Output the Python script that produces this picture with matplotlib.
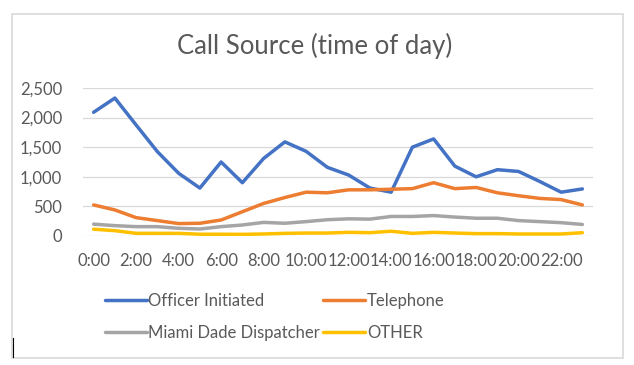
import matplotlib
matplotlib.use("Agg")
import matplotlib.pyplot as plt
from matplotlib.lines import Line2D

plt.rcParams['font.family'] = ['Lato', 'DejaVu Sans']

hours = list(range(24))
hour_labels = [f"{h}:00" for h in hours]

officer = [2090, 2330, 1875, 1425, 1060, 810, 1250, 900, 1310, 1590, 1430, 1160,
           1030, 810, 740, 1500, 1640, 1180, 1000, 1120, 1090, 920, 740, 795]
telephone = [525, 440, 310, 260, 210, 215, 270, 410, 550, 650, 740, 730,
             780, 780, 790, 800, 900, 800, 820, 730, 680, 635, 615, 525]
dispatcher = [200, 175, 158, 158, 130, 118, 158, 186, 230, 215, 243, 275,
              290, 285, 330, 330, 345, 320, 300, 300, 260, 243, 225, 195]
other = [115, 90, 45, 45, 45, 30, 30, 28, 34, 45, 50, 50,
         62, 56, 80, 45, 62, 50, 40, 40, 34, 34, 34, 56]

series = [("Officer Initiated", officer, "#4472C4"),
          ("Telephone", telephone, "#ED7D31"),
          ("Miami Dade Dispatcher", dispatcher, "#A5A5A5"),
          ("OTHER", other, "#FFC000")]

W, H = 634, 365
fig = plt.figure(figsize=(W / 100, H / 100), dpi=100)
ax = fig.add_axes([83 / W, 1 - 236 / H, (593 - 83) / W, (236 - 88) / H])

for name, vals, col in series:
    ax.plot(hours, vals, color=col, lw=2.5, solid_capstyle='round',
            solid_joinstyle='round', label=name)

ax.set_xlim(-0.5, 23.5)
ax.set_ylim(0, 2500)
ax.set_yticks(range(0, 2501, 500))
ax.set_yticklabels([f"{v:,}" for v in range(0, 2501, 500)])
ax.set_xticks(hours[::2])
ax.set_xticklabels(hour_labels[::2])
ax.grid(axis='y', color='#D9D9D9', lw=0.9)
ax.set_axisbelow(True)
for s in ax.spines.values():
    s.set_visible(False)
ax.tick_params(length=0, labelsize=12, colors='#595959')
ax.tick_params(axis='y', pad=15)
ax.tick_params(axis='x', pad=12)

fig.text(0.497, 1 - 46 / H, "Call Source (time of day)", ha='center', va='center',
         fontsize=18.5, color='#595959')

# excel fills the legend row by row; matplotlib fills column by column
order = [0, 2, 1, 3]
handles = [Line2D([], [], color=series[i][2], lw=2.5, solid_capstyle='round') for i in order]
labels = [series[i][0] for i in order]
leg = fig.legend(handles, labels, ncol=2, loc='upper left',
                 bbox_to_anchor=(90 / W, 1 - 278 / H), frameon=False,
                 fontsize=12, labelcolor='#595959', handlelength=2.5,
                 handletextpad=0.1, columnspacing=0.2, labelspacing=0.95)

# chart frame
fig.add_artist(plt.Rectangle((12 / W, 1 - 358 / H), (623 - 12) / W, (358 - 14) / H,
                             transform=fig.transFigure, fill=False,
                             edgecolor='#D9D9D9', lw=1.2))
# text cursor in the screenshot
fig.add_artist(Line2D([12.5 / W, 12.5 / W], [1 - 357 / H, 1 - 338 / H],
                      transform=fig.transFigure, color='black', lw=0.8))

fig.savefig("out.png", dpi=100)
